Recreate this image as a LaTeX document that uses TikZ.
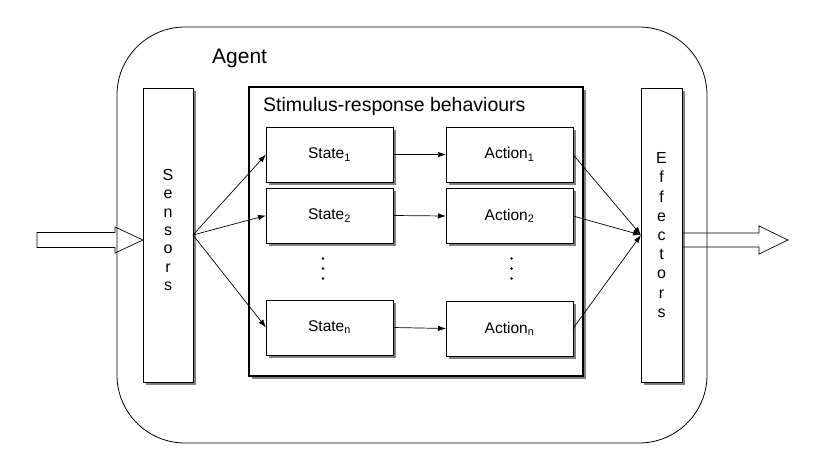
\documentclass[tikz,border=0pt]{standalone}
\usepackage{fontspec}
\setmainfont{Liberation Sans}
\usetikzlibrary{arrows.meta,shadows}
\begin{document}
\begin{tikzpicture}[x=1pt,y=-1pt,
  box/.style={draw,line width=0.8pt,fill=white,inner sep=0pt,outer sep=0pt,
    drop shadow={shadow xshift=2.5pt,shadow yshift=-2.5pt,fill=black!50,opacity=1}},
  smallbox/.style={box,minimum width=127pt,minimum height=55pt,font=\fontsize{15.5}{18}\selectfont},
  conn/.style={line width=0.7pt,-{Latex[length=8pt,width=5.5pt]}},
  fat/.style={line width=0.7pt},
  dot/.style={circle,fill=black,inner sep=0pt,minimum size=2.8pt}
]
\useasboundingbox (0,0) rectangle (817,474);
% agent frame
\node[draw,line width=0.8pt,rounded corners=68pt,minimum width=590pt,minimum height=416pt,inner sep=0pt] (agent) at (412,235) {};
\node[anchor=base west,inner sep=0pt,font=\fontsize{21}{24}\selectfont] (agentlbl) at (212,63) {Agent};
% sensors and effectors
\node[box,minimum width=50pt,minimum height=294pt] (sens) at (168,235) {};
\node[align=center,inner sep=0pt,font=\fontsize{16}{18.4}\selectfont] (senstxt) at ([yshift=5pt]sens.center) {S\\e\\n\\s\\o\\r\\s};
\node[box,minimum width=41pt,minimum height=294pt,align=center,font=\fontsize{16}{19.2}\selectfont] (eff) at (661.5,235) {E\\f\\f\\e\\c\\t\\o\\r\\s};
% behaviours box
\node[box,line width=1.6pt,minimum width=334pt,minimum height=289pt] (srb) at (416,231.5) {};
\node[anchor=base west,inner sep=0pt,font=\fontsize{19.5}{22}\selectfont] (srblbl) at (263,111.5) {Stimulus-response behaviours};
% states and actions
\node[smallbox] (s1) at (329.5,154.5) {State\textsubscript{1}};
\node[smallbox] (s2) at (329.5,215.5) {State\textsubscript{2}};
\node[smallbox] (sn) at (329.5,327.5) {State\textsubscript{n}};
\node[smallbox] (a1) at (509.5,154.5) {Action\textsubscript{1}};
\node[smallbox] (a2) at (509.5,216) {Action\textsubscript{2}};
\node[smallbox] (an) at (509.5,328.5) {Action\textsubscript{n}};
% dots
\node[dot] (sd1) at (323,258.5) {};
\node[dot] (sd2) at (323,268.5) {};
\node[dot] (sd3) at (323,278.5) {};
\node[dot] (ad1) at (511.5,258.5) {};
\node[dot] (ad2) at (511.5,268.5) {};
\node[dot] (ad3) at (511.5,278.5) {};
% connectors
\draw[conn] (sens.east) -- (s1.west);
\draw[conn] (sens.east) -- (s2.west);
\draw[conn] (sens.east) -- (sn.west);
\draw[conn] (s1.east) -- (a1.west);
\draw[conn] (s2.east) -- (a2.west);
\draw[conn] (sn.east) -- (an.west);
\draw[conn] (a1.east) -- (eff.west);
\draw[conn] (a2.east) -- (eff.west);
\draw[conn] (an.east) -- (eff.west);
% fat arrows
\coordinate (intip) at ([yshift=-5pt]sens.west);
\draw[fat] (intip) -- ++(-28,-13) -- ++(0,5.5) -- ++(-78,0) -- ++(0,15) -- ++(78,0) -- ++(0,5.5) -- cycle;
\coordinate (outbase) at ([yshift=-5pt]eff.east);
\draw[fat] (outbase) ++(0,-7) -- ++(77,0) -- ++(0,-7) -- (788,240) -- (759,254) -- ++(0,-7) -- ([yshift=-12pt]eff.east);
\end{tikzpicture}
\end{document}
